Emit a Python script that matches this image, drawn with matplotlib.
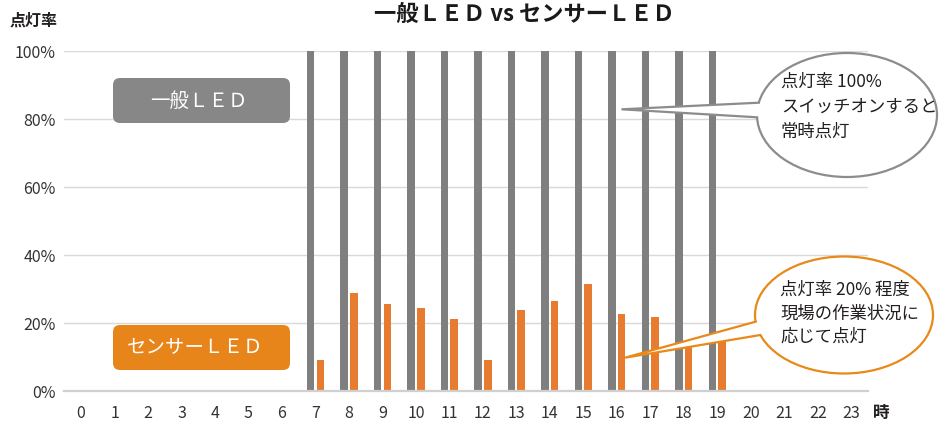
import numpy as np
import matplotlib
matplotlib.use("Agg")
import matplotlib.pyplot as plt
from matplotlib.patches import Ellipse, FancyBboxPatch, Polygon

plt.rcParams['font.family'] = ['Noto Sans CJK JP', 'DejaVu Sans']

# data
hours = [str(h) for h in range(24)]
general_led = [0, 0, 0, 0, 0, 0, 0, 100, 100, 100, 100, 100, 100, 100,
               100, 100, 100, 100, 100, 100, 0, 0, 0, 0]
sensor_led = [0, 0, 0, 0, 0, 0, 0, 9.1, 28.9, 25.7, 24.5, 21.2, 9.0, 23.9,
              26.5, 31.4, 22.6, 21.7, 14, 17, 0, 0, 0, 0]
y_ticks = [0, 20, 40, 60, 80, 100]

title = '一般ＬＥＤ vs センサーＬＥＤ'
note_general = ['点灯率 100%', 'スイッチオンすると', '常時点灯']
note_sensor = ['点灯率 20% 程度', '現場の作業状況に', '応じて点灯']

GREY = '#7f7f7f'
ORANGE = '#e77c31'
TXT = '#231f20'

W, H = 939, 423
fig = plt.figure(figsize=(W / 100, H / 100), dpi=100)

# main chart, placed in pixel terms
ax = fig.add_axes([64.3 / W, 32 / H, 803.7 / W, 340 / H])
x = np.arange(len(hours))
bw = 0.225
ax.bar(x - 0.145, general_led, bw, color=GREY, zorder=3)
ax.bar(x + 0.145, sensor_led, bw, color=ORANGE, zorder=3)

ax.set_xlim(-0.5, 23.5)
ax.set_ylim(0, 100)
ax.set_xticks(x)
ax.set_xticklabels(hours, fontsize=11.5, color='#333333')
ax.set_yticks(y_ticks)
ax.set_yticklabels(['%d%%' % v for v in y_ticks], fontsize=11.5, color='#333333')
ax.tick_params(axis='both', length=0)
ax.tick_params(axis='x', pad=10)
ax.tick_params(axis='y', pad=6)
ax.yaxis.grid(True, color='#d9d9d9', lw=1, zorder=0)
for s in ['top', 'right', 'left']:
    ax.spines[s].set_visible(False)
ax.spines['bottom'].set_color('#d0d0d0')
ax.spines['bottom'].set_linewidth(1.6)
ax.spines['bottom'].set_zorder(4)

# overlay in pixel coords for the labels and callouts
ov = fig.add_axes([0, 0, 1, 1])
ov.set_xlim(0, W)
ov.set_ylim(H, 0)
ov.axis('off')
ov.patch.set_alpha(0)

fig.text(524 / W, 1 - 14 / H, title, ha='center', va='center',
         fontsize=16, fontweight='bold', color='#1a1a1a')
ov.text(34, 21, '点灯率', ha='center', va='center', fontsize=11.5,
        fontweight='bold', color=TXT)
ov.text(881, 413, '時', ha='center', va='center', fontsize=12,
        fontweight='bold', color=TXT)

# series label boxes
for (y0, col, lab, tx) in [(78, '#878787', '一般ＬＥＤ', 199),
                           (325, '#e8851a', 'センサーＬＥＤ', 195)]:
    ov.add_patch(FancyBboxPatch((113, y0), 177, 45,
                                boxstyle='round,pad=0,rounding_size=7',
                                fc=col, ec='none'))
    ov.text(tx, y0 + 23, lab, ha='center', va='center', fontsize=14,
            color='white')


def left_pt(cx, cy, a, b, y):
    return (cx - a * np.sqrt(1 - ((y - cy) / b) ** 2), y)


def callout(cx, cy, w, h, tip, y_up, y_lo, col, lines, tx, ty0, dy):
    a, b = w / 2, h / 2
    ov.add_patch(Ellipse((cx, cy), w, h, fc='white', ec=col, lw=1.6, zorder=5))
    p_up = left_pt(cx, cy, a, b, y_up)
    p_lo = left_pt(cx, cy, a, b, y_lo)
    poly = [tip, p_up, (p_up[0] + 10, y_up), (p_lo[0] + 10, y_lo), p_lo]
    ov.add_patch(Polygon(poly, closed=True, fc='white', ec='none', zorder=6))
    ov.plot([p_up[0], tip[0], p_lo[0]], [y_up, tip[1], y_lo], color=col,
            lw=1.6, zorder=7, solid_joinstyle='miter')
    for i, t in enumerate(lines):
        ov.text(tx, ty0 + i * dy, t, ha='left', va='center', fontsize=12.5,
                color=TXT, zorder=8)


callout(847, 115, 180, 124, (621.5, 109.3), 102.7, 117.3, '#8c8c8c',
        note_general, 781, 82, 25)
callout(844, 315, 178, 117, (625, 357.7), 321.7, 335, '#e8891a',
        note_sensor, 780, 290, 23.5)

fig.savefig('out.png', dpi=100)
